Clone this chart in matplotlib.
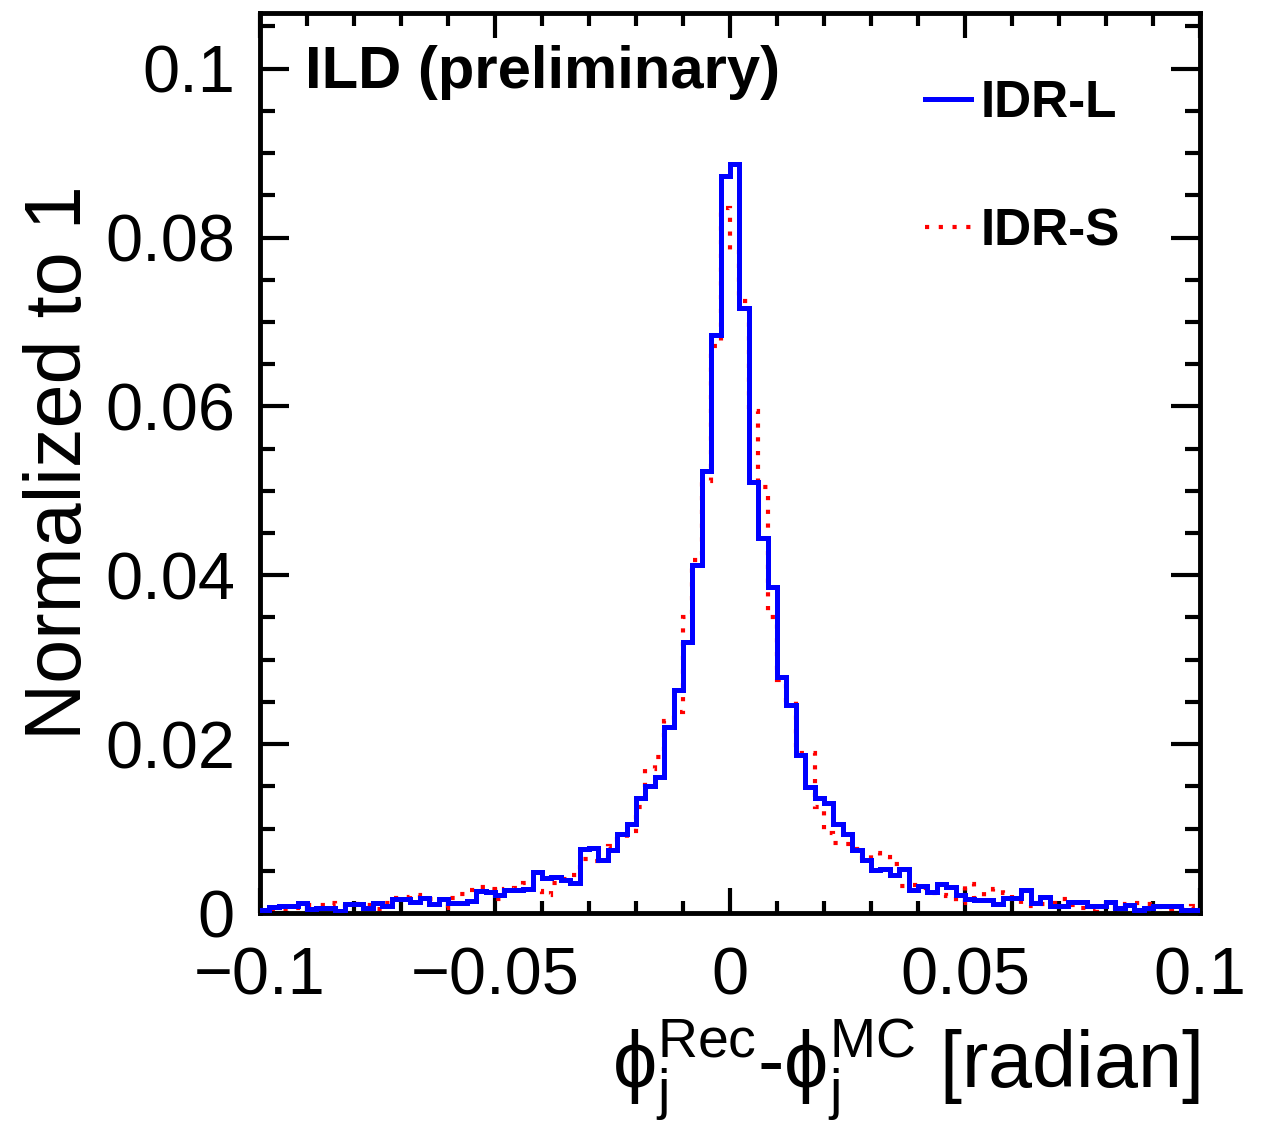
import numpy as np
import matplotlib
matplotlib.use('Agg')
import matplotlib.pyplot as plt
from matplotlib.ticker import MultipleLocator, FixedLocator, FixedFormatter

plt.rcParams['font.family'] = ['Liberation Sans', 'DejaVu Sans']
plt.rcParams['mathtext.fontset'] = 'custom'
plt.rcParams['mathtext.rm'] = 'Liberation Sans'
plt.rcParams['mathtext.it'] = 'Liberation Sans'
plt.rcParams['mathtext.fallback'] = 'stixsans'

# 100 bins from -0.1 to 0.1, normalized to 1
edges = np.linspace(-0.1, 0.1, 101)

idr_l = [0.0004, 0.0007, 0.0008, 0.0008, 0.0012, 0.0005, 0.0006, 0.0006, 0.0002, 0.0011,
         0.0011, 0.0006, 0.0012, 0.0008, 0.0016, 0.0016, 0.0013, 0.0018, 0.0011, 0.0017,
         0.0012, 0.0012, 0.0014, 0.0026, 0.0025, 0.0021, 0.0027, 0.0027, 0.0028, 0.0049,
         0.0042, 0.0043, 0.0039, 0.0036, 0.0076, 0.0077, 0.0063, 0.0075, 0.0094, 0.0106,
         0.0136, 0.0151, 0.0161, 0.0220, 0.0264, 0.0321, 0.0412, 0.0524, 0.0684, 0.0873,
         0.0887, 0.0717, 0.0510, 0.0444, 0.0386, 0.0279, 0.0246, 0.0187, 0.0149, 0.0136,
         0.0130, 0.0106, 0.0094, 0.0075, 0.0063, 0.0051, 0.0052, 0.0045, 0.0052, 0.0027,
         0.0032, 0.0025, 0.0034, 0.0031, 0.0021, 0.0016, 0.0015, 0.0015, 0.0011, 0.0018,
         0.0018, 0.0027, 0.0012, 0.0019, 0.0008, 0.0008, 0.0013, 0.0013, 0.0008, 0.0008,
         0.0013, 0.0006, 0.0009, 0.0003, 0.0006, 0.0008, 0.0008, 0.0008, 0.0003, 0.0003]

idr_s = [0.0003, 0.0004, 0.0005, 0.0006, 0.0007, 0.0009, 0.0010, 0.0012, 0.0011, 0.0008,
         0.0011, 0.0009, 0.0005, 0.0012, 0.0018, 0.0019, 0.0021, 0.0018, 0.0016, 0.0006,
         0.0018, 0.0022, 0.0027, 0.0031, 0.0028, 0.0016, 0.0029, 0.0030, 0.0036, 0.0026,
         0.0021, 0.0035, 0.0040, 0.0045, 0.0064, 0.0062, 0.0064, 0.0079, 0.0088, 0.0097,
         0.0125, 0.0170, 0.0185, 0.0228, 0.0238, 0.0350, 0.0418, 0.0512, 0.0672, 0.0835,
         0.0785, 0.0725, 0.0595, 0.0505, 0.0350, 0.0276, 0.0252, 0.0190, 0.0190, 0.0125,
         0.0095, 0.0083, 0.0082, 0.0076, 0.0063, 0.0071, 0.0066, 0.0058, 0.0032, 0.0033,
         0.0030, 0.0024, 0.0021, 0.0020, 0.0012, 0.0034, 0.0018, 0.0025, 0.0028, 0.0024,
         0.0016, 0.0010, 0.0008, 0.0011, 0.0012, 0.0016, 0.0010, 0.0006, 0.0003, 0.0007,
         0.0004, 0.0007, 0.0011, 0.0012, 0.0011, 0.0007, 0.0004, 0.0006, 0.0005, 0.0008]

xticks = [-0.1, -0.05, 0, 0.05, 0.1]
xticklabels = ['\u22120.1', '\u22120.05', '0', '0.05', '0.1']
yticks = [0, 0.02, 0.04, 0.06, 0.08, 0.1]
yticklabels = ['0', '0.02', '0.04', '0.06', '0.08', '0.1']

fig = plt.figure(figsize=(12.75, 11.48), dpi=100)
ax = fig.add_axes([0.2039, 0.2047, 0.9412 - 0.2039, 0.9887 - 0.2047])

ax.stairs(idr_s, edges, color='red', lw=3.0, linestyle=(0, (1.0, 2.3)), label='IDR-S', zorder=2)
ax.stairs(idr_l, edges, color='blue', lw=3.6, label='IDR-L', zorder=3)

ax.set_xlim(-0.1, 0.1)
ax.set_ylim(0, 0.1066)

ax.xaxis.set_major_locator(FixedLocator(xticks))
ax.xaxis.set_major_formatter(FixedFormatter(xticklabels))
ax.xaxis.set_minor_locator(MultipleLocator(0.01))
ax.yaxis.set_major_locator(FixedLocator(yticks))
ax.yaxis.set_major_formatter(FixedFormatter(yticklabels))
ax.yaxis.set_minor_locator(MultipleLocator(0.005))

ax.tick_params(which='both', direction='in', top=True, right=True, width=3, color='black')
ax.tick_params(axis='x', which='major', length=18, pad=24, labelsize=48)
ax.tick_params(axis='x', which='minor', length=9)
ax.tick_params(axis='y', which='major', length=21, pad=18, labelsize=48)
ax.tick_params(axis='y', which='minor', length=11)
for s in ax.spines.values():
    s.set_linewidth(3.5)

xlab = r'$\mathrm{\phi}_{\mathrm{j}}^{\mathrm{Rec}}$-$\mathrm{\phi}_{\mathrm{j}}^{\mathrm{MC}}$ [radian]'
ax.set_xlabel(xlab, fontsize=57, loc='right', labelpad=6)
ax.set_ylabel('Normalized to 1', fontsize=57, labelpad=5)

ax.text(0.048, 0.9167, 'ILD (preliminary)', transform=ax.transAxes, fontsize=43,
        fontweight='bold', va='baseline', ha='left')

handles, labels = ax.get_legend_handles_labels()
leg = ax.legend(handles[::-1], labels[::-1], loc='upper left', bbox_to_anchor=(0.707, 0.927),
                frameon=False, prop={'size': 37, 'weight': 'bold'}, handlelength=0.9,
                handletextpad=0.2, labelspacing=1.55, borderpad=0, borderaxespad=0)

fig.savefig('out.png', dpi=100)
